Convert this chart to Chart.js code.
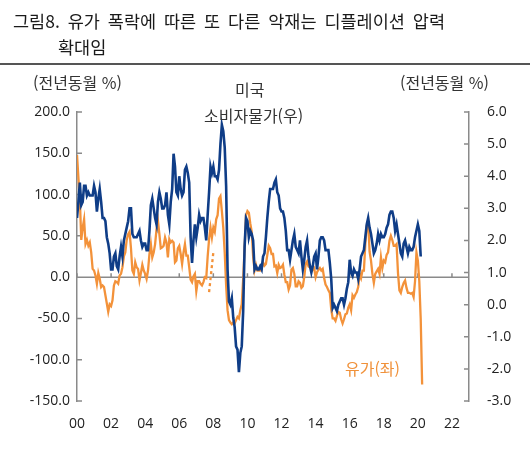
<!DOCTYPE html>
<html lang="ko">
<head>
<meta charset="utf-8">
<script src="https://cdn.jsdelivr.net/npm/chart.js@4.4.1/dist/chart.umd.min.js"></script>
<style>
  body { margin: 0; background: #fff; }
  #wrap { position: relative; width: 530px; height: 451px; font-family: "Noto Sans CJK KR", "Noto Sans", sans-serif; color: #222; }
  #wrap canvas { position: absolute; left: 0; top: 0; }
  .t { position: absolute; white-space: nowrap; line-height: 1; }
  .title { font-size: 17.5px; color: #1a1a1a; word-spacing: 3px; }
  .note { font-size: 16px; color: #333; }
  #rule { position: absolute; left: 0; top: 63px; width: 530px; height: 2px; background: #555; }
</style>
</head>
<body>
<div id="wrap">
  <canvas id="chart" width="530" height="451"></canvas>
  <div class="t title" style="left:13px; top:12px;">그림8. 유가 폭락에 따른 또 다른 악재는 디플레이션 압력</div>
  <div class="t title" style="left:58px; top:38px;">확대임</div>
  <div id="rule"></div>
  <div class="t note" style="left:33px; top:74px;">(전년동월 %)</div>
  <div class="t note" style="left:400px; top:74px;">(전년동월 %)</div>
  <div class="t note" style="left:235px; top:81px;">미국</div>
  <div class="t note" style="left:204px; top:107px;">소비자물가(우)</div>
  <div class="t note" style="left:345px; top:360px; color:#f0913a;">유가(좌)</div>
</div>
<script>
// x axis: years, two-digit labels
const xTicks = [2000, 2002, 2004, 2006, 2008, 2010, 2012, 2014, 2016, 2018, 2020, 2022];
const xTickLabels = ['00', '02', '04', '06', '08', '10', '12', '14', '16', '18', '20', '22'];
const leftTicks = [-150, -100, -50, 0, 50, 100, 150, 200];
const rightTicks = [-3, -2, -1, 0, 1, 2, 3, 4, 5, 6];

// US CPI, % yoy (right axis), monthly from 2000-01
const cpiStart = 2000;
const cpiValues = [
  2.7, 3.2, 3.8, 3.1, 3.2, 3.7, 3.7, 3.4, 3.5, 3.4, 3.4, 3.4,
  3.7, 3.5, 2.9, 3.3, 3.6, 3.2, 2.7, 2.7, 2.6, 2.1, 1.9, 1.6,
  1.1, 1.1, 1.5, 1.6, 1.2, 1.1, 1.5, 1.8, 1.5, 2.0, 2.2, 2.4,
  2.6, 3.0, 3.0, 2.2, 2.1, 2.1, 2.1, 2.2, 2.3, 2.0, 1.8, 1.9,
  1.9, 1.7, 1.7, 2.3, 3.1, 3.3, 3.0, 2.7, 2.5, 3.2, 3.5, 3.3,
  3.0, 3.0, 3.1, 3.5, 2.8, 2.5, 3.2, 3.6, 4.7, 4.3, 3.5, 3.4,
  4.0, 3.6, 3.4, 3.5, 4.2, 4.3, 4.1, 3.8, 2.1, 1.3, 2.0, 2.5,
  2.1, 2.4, 2.8, 2.6, 2.7, 2.7, 2.4, 2.0, 2.8, 3.5, 4.3, 4.1,
  4.3, 4.0, 4.0, 3.9, 4.2, 5.0, 5.6, 5.4, 4.9, 3.7, 1.1, 0.1,
  0.0, 0.2, -0.4, -0.7, -1.3, -1.4, -2.1, -1.5, -1.3, -0.2, 1.8, 2.7,
  2.6, 2.1, 2.3, 2.2, 2.0, 1.1, 1.2, 1.1, 1.1, 1.2, 1.1, 1.5,
  1.6, 2.1, 2.7, 3.2, 3.6, 3.6, 3.6, 3.8, 3.9, 3.5, 3.4, 3.0,
  2.9, 2.9, 2.7, 2.3, 1.7, 1.7, 1.4, 1.7, 2.0, 2.2, 1.8, 1.7,
  1.6, 2.0, 1.5, 1.1, 1.4, 1.8, 2.0, 1.5, 1.2, 1.0, 1.2, 1.5,
  1.6, 1.1, 1.5, 2.0, 2.1, 2.1, 2.0, 1.7, 1.7, 1.7, 1.3, 0.8,
  -0.1, 0.0, -0.1, -0.2, 0.0, 0.1, 0.2, 0.2, 0.0, 0.2, 0.5, 0.7,
  1.4, 1.0, 0.9, 1.1, 1.0, 1.0, 0.8, 1.1, 1.5, 1.6, 1.7, 2.1,
  2.5, 2.7, 2.4, 2.2, 1.9, 1.6, 1.7, 1.9, 2.2, 2.0, 2.2, 2.1,
  2.1, 2.2, 2.4, 2.5, 2.8, 2.9, 2.9, 2.7, 2.3, 2.5, 2.2, 1.9,
  1.6, 1.5, 1.9, 2.0, 1.8, 1.6, 1.8, 1.7, 1.7, 1.8, 2.1, 2.3,
  2.5, 2.3, 1.5
];

// oil price, % yoy (left axis), monthly from 2000-01
const oilStart = 2000;
const oilValues = [
  148, 120, 95, 45, 60, 70, 40, 45, 38, 42, 30, 10,
  8, 2, -8, 5, -2, -12, -10, -12, -22, -32, -42, -33,
  -35, -28, -10, -5, -6, -8, 2, 4, 12, 25, 30, 45,
  52, 55, 35, 8, 4, 18, 12, 10, -4, 5, 15, 8,
  4, -2, 8, 28, 40, 24, 30, 40, 58, 68, 52, 35,
  36, 38, 48, 42, 24, 46, 42, 44, 42, 18, 20, 35,
  38, 28, 16, 30, 40, 26, 26, 12, -3, -6, 1, 4,
  -17, -5, -5, -8, -10, -6, 0, -1, 25, 46, 60, 48,
  60, 55, 70, 75, 95, 98, 80, 60, 30, -10, -40, -52,
  -55, -57, -55, -56, -52, -48, -50, -40, -33, -2, 35, 75,
  80, 78, 65, 55, 25, 8, 15, 8, 8, 8, 10, 18,
  14, 16, 27, 38, 35, 28, 28, 13, 14, 5, 15, 11,
  12, 15, 3, -6, -6, -15, -10, 9, 11, 4, -11, -11,
  -5, -7, -13, -11, 0, 16, 19, 13, 12, 12, 9, 11,
  0, 6, 9, 11, 8, 10, -1, -9, -12, -16, -19, -39,
  -50, -50, -53, -47, -42, -43, -51, -56, -51, -45, -44, -37,
  -33, -40, -22, -25, -21, -18, -12, 4, -1, 8, 8, 40,
  62, 68, 31, 20, 4, -7, 4, 7, 10, 4, 24, 11,
  20, 18, 27, 30, 44, 50, 45, 38, 38, 40, 5, -16,
  -19, -12, -7, -4, -13, -19, -19, -20, -19, -24, -5, 30,
  20, -5, -50, -130
];

// short dashed piece of the oil line, late 2007
const oilDashMonths = ['2007-10', '2007-11', '2007-12', '2008-01'];
const oilDashValues = [-18, -2, 14, 30];

const navy = '#0f3d87';
const orange = '#f3923a';

function monthly(start, values) {
  return values.map((v, i) => ({ x: start + i / 12, y: v }));
}
function toYear(s) {
  const [y, m] = s.split('-').map(Number);
  return y + (m - 1) / 12;
}

// axis line at zero plus inward tick marks
const axisMarks = {
  id: 'axisMarks',
  beforeDatasetsDraw(chart) {
    const { ctx, chartArea: a, scales } = chart;
    const y0 = scales.yL.getPixelForValue(0);
    ctx.save();
    ctx.strokeStyle = '#8a8a8a';
    ctx.lineWidth = 1.5;
    ctx.beginPath();
    ctx.moveTo(a.left, y0);
    ctx.lineTo(a.right, y0);
    xTicks.forEach(v => {
      const px = scales.x.getPixelForValue(v);
      ctx.moveTo(px, y0);
      ctx.lineTo(px, y0 - 4);
    });
    leftTicks.forEach(v => {
      const py = scales.yL.getPixelForValue(v);
      ctx.moveTo(a.left, py);
      ctx.lineTo(a.left + 5, py);
    });
    rightTicks.forEach(v => {
      const py = scales.yR.getPixelForValue(v);
      ctx.moveTo(a.right, py);
      ctx.lineTo(a.right - 5, py);
    });
    ctx.stroke();
    ctx.restore();
  }
};

const tickFont = { family: 'Open Sans', size: 14 };

new Chart(document.getElementById('chart'), {
  type: 'line',
  data: {
    datasets: [
      {
        label: '소비자물가(우)',
        data: monthly(cpiStart, cpiValues),
        yAxisID: 'yR',
        borderColor: navy,
        borderWidth: 2.6,
        pointRadius: 0,
        tension: 0
      },
      {
        label: '유가(좌)',
        data: monthly(oilStart, oilValues),
        yAxisID: 'yL',
        borderColor: orange,
        borderWidth: 2.3,
        pointRadius: 0,
        tension: 0
      },
      {
        label: '유가 점선',
        data: oilDashMonths.map((m, i) => ({ x: toYear(m), y: oilDashValues[i] })),
        yAxisID: 'yL',
        borderColor: orange,
        borderWidth: 2.3,
        borderDash: [3, 3],
        pointRadius: 0,
        tension: 0
      }
    ]
  },
  options: {
    responsive: false,
    animation: false,
    layout: { padding: { top: 112, left: 0, right: 0, bottom: 0 } },
    plugins: {
      legend: { display: false },
      tooltip: { enabled: false }
    },
    scales: {
      x: {
        type: 'linear',
        min: 2000,
        max: 2023,
        afterBuildTicks: s => { s.ticks = xTicks.map(v => ({ value: v })); },
        afterFit: s => { s.height = 50; },
        ticks: {
          callback: (v, i) => xTickLabels[i],
          color: '#222',
          font: tickFont,
          padding: 15,
          maxRotation: 0,
          autoSkip: false
        },
        grid: { display: false, drawTicks: false },
        border: { display: false }
      },
      yL: {
        position: 'left',
        min: -150,
        max: 200,
        afterBuildTicks: s => { s.ticks = leftTicks.map(v => ({ value: v })); },
        afterFit: s => { s.width = 77; },
        ticks: {
          callback: v => v.toFixed(1),
          color: '#222',
          font: tickFont,
          padding: 7
        },
        grid: { display: false, drawTicks: false },
        border: { color: '#8a8a8a', width: 1.5 }
      },
      yR: {
        position: 'right',
        min: -3,
        max: 6,
        afterBuildTicks: s => { s.ticks = rightTicks.map(v => ({ value: v })); },
        afterFit: s => { s.width = 61; },
        ticks: {
          callback: v => v.toFixed(1),
          color: '#222',
          font: tickFont,
          padding: 18
        },
        grid: { display: false, drawTicks: false },
        border: { color: '#8a8a8a', width: 1.5 }
      }
    }
  },
  plugins: [axisMarks]
});
</script>
</body>
</html>
